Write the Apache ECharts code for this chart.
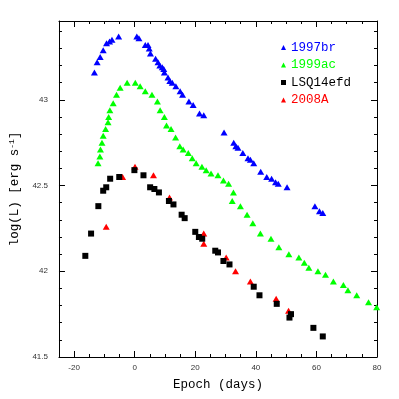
<!DOCTYPE html>
<html>
<head>
<meta charset="utf-8">
<title>log(L) vs epoch</title>
<script src="https://cdn.jsdelivr.net/npm/echarts@6/dist/echarts.min.js"></script>
<style>
  html, body { margin: 0; padding: 0; background: #fff; }
  #main { width: 399px; height: 399px; }
</style>
</head>
<body>
<div id="main"></div>
<script type="text/javascript">
// light curves: [epoch (days), log(L)]
var sn1997br = [[-13.3,43.16],[-12.4,43.22],[-11.4,43.25],[-10.4,43.29],[-9.3,43.33],[-8.3,43.34],[-7.5,43.35],[-5.3,43.37],
  [0.7,43.37],[1.4,43.36],[3.5,43.32],[4.4,43.32],[4.8,43.30],[5.2,43.27],[6.9,43.24],[7.7,43.22],[8.3,43.20],[9.1,43.19],
  [9.6,43.18],[9.8,43.16],[11.0,43.13],[11.6,43.11],[12.4,43.10],[13.6,43.08],[15.0,43.05],[15.8,43.03],[17.9,42.99],
  [19.3,42.97],[21.4,42.92],[22.8,42.91],[29.5,42.81],[32.7,42.75],[33.4,42.73],[34.1,42.72],[35.7,42.69],[37.4,42.66],
  [38.2,42.65],[39.3,42.63],[41.6,42.58],[43.6,42.55],[45.2,42.54],[46.5,42.52],[47.4,42.51],[50.3,42.49],[59.5,42.38],
  [61.0,42.35],[62.1,42.34]];

var sn1999ac = [[-12.1,42.63],[-11.5,42.67],[-11.3,42.71],[-10.8,42.75],[-10.4,42.79],[-9.6,42.83],[-8.8,42.87],[-8.6,42.90],
  [-8.2,42.94],[-7.1,42.98],[-6.0,43.03],[-4.8,43.07],[-2.5,43.10],[0.2,43.10],[1.8,43.08],[3.5,43.05],[5.7,43.03],[7.5,42.99],
  [8.4,42.94],[9.8,42.90],[10.5,42.85],[12.0,42.83],[13.5,42.78],[14.9,42.73],[16.0,42.71],[17.7,42.69],[19.0,42.66],
  [20.3,42.63],[22.2,42.61],[23.6,42.59],[25.2,42.57],[27.5,42.56],[29.3,42.53],[31.0,42.51],[32.6,42.46],[32.2,42.41],
  [34.9,42.38],[37.1,42.33],[39.0,42.28],[41.5,42.22],[45.0,42.19],[47.6,42.14],[50.9,42.10],[54.2,42.08],[56.0,42.05],
  [57.5,42.02],[60.5,42.00],[63.0,41.98],[65.6,41.94],[68.9,41.92],[70.4,41.89],[73.3,41.86],[77.2,41.82],[79.9,41.79]];

var lsq14efd = [[-16.3,42.09],[-14.4,42.22],[-12.0,42.38],[-10.4,42.47],[-9.4,42.49],[-8.1,42.54],[-5.1,42.55],[-0.1,42.59],
  [2.9,42.56],[5.1,42.49],[6.5,42.48],[8.0,42.46],[11.3,42.41],[12.8,42.39],[15.5,42.33],[16.5,42.31],[20.0,42.23],
  [21.2,42.20],[22.3,42.19],[26.6,42.12],[27.5,42.11],[29.3,42.06],[31.3,42.04],[39.3,41.91],[41.2,41.86],[46.9,41.81],
  [51.6,41.75],[51.1,41.73],[59.0,41.67],[62.1,41.62]];

var sn2008A = [[-9.4,42.26],[-4.0,42.55],[0.1,42.61],[6.2,42.56],[11.5,42.43],[22.8,42.22],[22.8,42.16],[30.2,42.08],
  [33.3,42.00],[38.2,41.94],[46.7,41.84],[50.8,41.77]];

// axis ranges and tick values
var xMin = -25, xMax = 80;
var yMin = 41.5, yMax = 43.46;
var xMajor = [-20, 0, 20, 40, 60, 80];
var yMajor = [41.5, 42, 42.5, 43];
var xMinor = [];
for (var i = -25; i <= 80; i += 5) { if (xMajor.indexOf(i) < 0) xMinor.push(i); }
var yMinor = [];
for (var j = 415; j <= 434; j++) { if (j % 5 != 0) yMinor.push(j / 10); }

var txtFont = '"Liberation Mono", monospace';
var frame = { lineStyle: { color: '#000', width: 1 } };

function xAx(pos, ticks, len, labels, line) {
  return {
    type: 'value', position: pos, min: xMin, max: xMax, gridIndex: 0,
    axisLine: { show: line, onZero: false, lineStyle: frame.lineStyle },
    axisTick: { show: true, inside: true, length: len, customValues: ticks, lineStyle: { color: '#000' } },
    axisLabel: labels ? { show: true, customValues: ticks, margin: 7, fontSize: 8, color: '#333', fontFamily: 'Liberation Sans' } : { show: false },
    splitLine: { show: false }
  };
}
function yAx(pos, ticks, len, labels, line) {
  return {
    type: 'value', position: pos, min: yMin, max: yMax, gridIndex: 0,
    axisLine: { show: line, onZero: false, lineStyle: frame.lineStyle },
    axisTick: { show: true, inside: true, length: len, customValues: ticks, lineStyle: { color: '#000' } },
    axisLabel: labels ? { show: true, customValues: ticks, margin: 11, fontSize: 8, color: '#333', fontFamily: 'Liberation Sans' } : { show: false },
    splitLine: { show: false }
  };
}

var xAxes = [xAx('bottom', xMajor, 6, true, true), xAx('bottom', xMinor, 3, false, false),
             xAx('top', xMajor, 6, false, true), xAx('top', xMinor, 3, false, false)];
xAxes[0].name = 'Epoch (days)';
xAxes[0].nameLocation = 'middle';
xAxes[0].nameGap = 21;
xAxes[0].nameTextStyle = { fontFamily: txtFont, fontSize: 12.5, color: '#000' };

var yAxes = [yAx('left', yMajor, 6, true, true), yAx('left', yMinor, 3, false, false),
             yAx('right', yMajor, 6, false, true), yAx('right', yMinor, 3, false, false)];
yAxes[0].name = '{a|log(L) [erg s}{s|-1}{a|]}';
yAxes[0].nameLocation = 'middle';
yAxes[0].nameGap = 31;
yAxes[0].nameRotate = 90;
yAxes[0].nameTextStyle = {
  rich: {
    a: { fontFamily: txtFont, fontSize: 12.5, color: '#000' },
    s: { fontFamily: txtFont, fontSize: 8, color: '#000', verticalAlign: 'bottom', padding: [0, 0, 6, 0] }
  }
};

var chart = echarts.init(document.getElementById('main'), null, { renderer: 'canvas' });
chart.setOption({
  animation: false,
  backgroundColor: '#fff',
  grid: { left: 57, right: 22, top: 21, bottom: 42, containLabel: false },
  xAxis: xAxes,
  yAxis: yAxes,
  legend: {
    orient: 'vertical', left: 281, top: 41, padding: 0,
    itemWidth: 5, itemHeight: 5, itemGap: 4.5,
    textStyle: { fontFamily: txtFont, fontSize: 12.5 },
    data: [
      { name: '1997br', icon: 'triangle', textStyle: { color: '#0000ff' } },
      { name: '1999ac', icon: 'triangle', textStyle: { color: '#00ff00' } },
      { name: 'LSQ14efd', icon: 'rect', textStyle: { color: '#000000' } },
      { name: '2008A', icon: 'triangle', textStyle: { color: '#ff0000' } }
    ]
  },
  series: [
    { name: '1997br', type: 'scatter', data: sn1997br, symbol: 'triangle', symbolSize: [7, 6], itemStyle: { color: '#0000ff', opacity: 1 } },
    { name: '1999ac', type: 'scatter', data: sn1999ac, symbol: 'triangle', symbolSize: [7, 6], itemStyle: { color: '#00ff00', opacity: 1 } },
    { name: '2008A', type: 'scatter', data: sn2008A, symbol: 'triangle', symbolSize: [7, 6], itemStyle: { color: '#ff0000', opacity: 1 } },
    { name: 'LSQ14efd', type: 'scatter', data: lsq14efd, symbol: 'rect', symbolSize: 6, itemStyle: { color: '#000000', opacity: 1 } }
  ]
});
</script>
</body>
</html>
